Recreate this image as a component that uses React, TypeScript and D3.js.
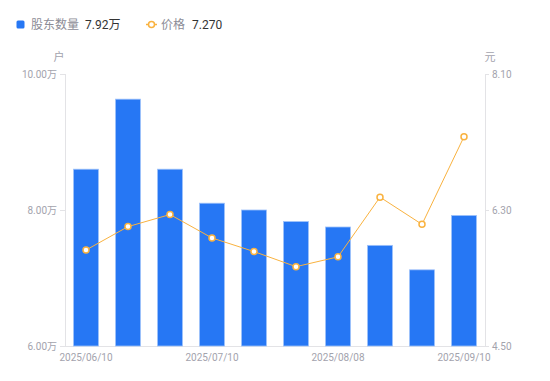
import React from "react";
import * as d3 from "d3";

const dates = ["2025/06/10", "2025/06/20", "2025/06/30", "2025/07/10", "2025/07/20", "2025/07/31", "2025/08/08", "2025/08/20", "2025/08/29", "2025/09/10"];
const holders = [8.6, 9.63, 8.6, 8.1, 8.0, 7.83, 7.75, 7.48, 7.12, 7.92];
const prices = [5.77, 6.08, 6.24, 5.93, 5.75, 5.55, 5.68, 6.47, 6.11, 7.27];
const leftTicks = [6, 8, 10];
const rightTicks = [4.5, 6.3, 8.1];
const shownDates = ["2025/06/10", "2025/07/10", "2025/08/08", "2025/09/10"];

const W = 550, H = 381;
const L = 65, R = 485, T = 74, B = 346;
const FONT = "Roboto, 'Noto Sans CJK SC', sans-serif";
const BLUE = "#2677F4";
const ORANGE = "#F9B23F";
const GREY = "#a3a3ad";

export default function App() {
  const band = d3.scaleBand<string>().domain(dates).range([L, R]);
  const yL = d3.scaleLinear().domain([6, 10]).range([B, T]);
  const yR = d3.scaleLinear().domain([4.5, 8.1]).range([B, T]);
  const cx = (d: string) => band(d)! + band.bandwidth() / 2;
  const line = d3.line<number>().x((_, i) => cx(dates[i])).y((v) => yR(v));
  const bw = 25;

  return (
    <svg width={W} height={H} style={{ position: "absolute", left: 0, top: 0, fontFamily: FONT }}>
      <rect width={W} height={H} fill="#fff" />
      {/* legend */}
      <rect x={16.5} y={20.5} width={8} height={8} rx={1.5} fill={BLUE} />
      <text x={31} y={29} fontSize={12} fill="#8c8c96">股东数量</text>
      <text x={85} y={29} fontSize={12} fill="#333">7.92万</text>
      <line x1={146} x2={157} y1={24.5} y2={24.5} stroke={ORANGE} strokeWidth={1.5} />
      <circle cx={151.5} cy={24.5} r={3} fill="#fff" stroke={ORANGE} strokeWidth={1.5} />
      <text x={161} y={29} fontSize={12} fill="#8c8c96">价格</text>
      <text x={192} y={29} fontSize={12} fill="#333">7.270</text>

      {/* unit labels */}
      <text x={59} y={61} fontSize={11} fill={GREY} textAnchor="middle">户</text>
      <text x={490} y={61} fontSize={11} fill={GREY} textAnchor="middle">元</text>

      {/* axes */}
      <line x1={L + 0.5} x2={L + 0.5} y1={T} y2={B} stroke="#e3e3e6" />
      <line x1={R + 0.5} x2={R + 0.5} y1={T} y2={B} stroke="#e3e3e6" />
      <line x1={L} x2={R} y1={B + 0.5} y2={B + 0.5} stroke="#e3e3e6" />
      {leftTicks.map((t) => (
        <g key={"l" + t}>
          <line x1={L - 5} x2={L} y1={yL(t) + 0.5} y2={yL(t) + 0.5} stroke="#e3e3e6" />
          <text x={L - 8} y={yL(t) + 3.5} fontSize={10} fill={GREY} textAnchor="end">{t.toFixed(2)}万</text>
        </g>
      ))}
      {rightTicks.map((t) => (
        <g key={"r" + t}>
          <line x1={R} x2={R + 4} y1={yR(t) + 0.5} y2={yR(t) + 0.5} stroke="#e3e3e6" />
          <text x={R + 7} y={yR(t) + 3.5} fontSize={10} fill={GREY}>{t.toFixed(2)}</text>
        </g>
      ))}

      {/* bars */}
      {dates.map((d, i) => (
        <rect key={d} x={cx(d) - bw / 2} y={yL(holders[i])} width={bw} height={B - yL(holders[i])}
          fill={BLUE} stroke="#9fc2fa" strokeWidth={0.8} />
      ))}

      {/* x labels */}
      {shownDates.map((d) => (
        <text key={d} x={cx(d)} y={361} fontSize={10} fill={GREY} textAnchor="middle">{d}</text>
      ))}

      {/* price line */}
      <path d={line(prices)!} fill="none" stroke={ORANGE} strokeWidth={1} />
      {prices.map((v, i) => (
        <circle key={i} cx={cx(dates[i])} cy={yR(v)} r={3} fill="#fff" stroke={ORANGE} strokeWidth={1.5} />
      ))}
    </svg>
  );
}
